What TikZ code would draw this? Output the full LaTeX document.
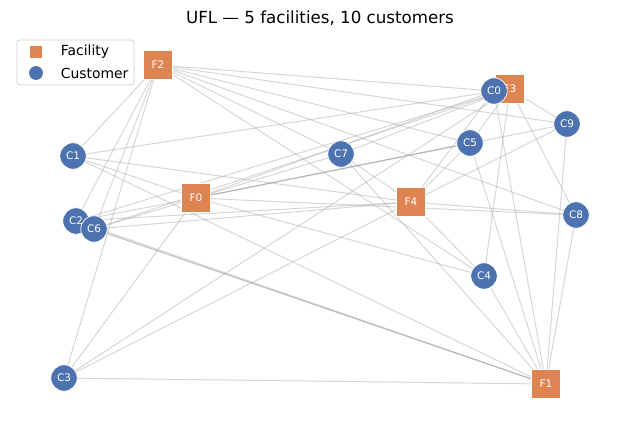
\documentclass[tikz,border=0pt]{standalone}
\usepackage{fontspec}
\setmainfont{DejaVu Sans}
\usetikzlibrary{backgrounds}
\definecolor{fac}{HTML}{DD8452}
\definecolor{cus}{HTML}{4C72B0}
\tikzset{
  facility/.style={rectangle, fill=fac, draw=white, line width=0.5pt, minimum size=21pt, inner sep=0pt, text=white, font=\fontsize{7.5}{8}\selectfont},
  customer/.style={circle, fill=cus, draw=white, line width=0.5pt, minimum size=19pt, inner sep=0pt, text=white, font=\fontsize{7.5}{8}\selectfont},
  edge/.style={draw=black!35, opacity=0.45, line width=0.7pt},
  strongedge/.style={draw=black!35, opacity=0.5, line width=0.7pt},
}
\begin{document}
\begin{tikzpicture}[x=0.72pt, y=-0.72pt]
\useasboundingbox (0,0) rectangle (640,427);
\node[font=\fontsize{12}{14}\selectfont] (title) at (320,18) {UFL — 5 facilities, 10 customers};
% facilities
\node[facility] (f2) at (158,65) {F2};
\node[facility] (f3) at (510,89) {F3};
\node[facility] (f0) at (196,198) {F0};
\node[facility] (f4) at (411,202) {F4};
\node[facility] (f1) at (546,384) {F1};
% customers
\node[customer] (c0) at (494,91) {C0};
\node[customer] (c1) at (73,156) {C1};
\node[customer] (c2) at (76,221) {C2};
\node[customer] (c6) at (94,229) {C6};
\node[customer] (c7) at (341,154) {C7};
\node[customer] (c5) at (470,143) {C5};
\node[customer] (c9) at (567,124) {C9};
\node[customer] (c8) at (576,215) {C8};
\node[customer] (c4) at (484,276) {C4};
\node[customer] (c3) at (64,378) {C3};
\begin{pgfonlayer}{background}
\fill[white] (0,0) rectangle (640,427);
\foreach \f in {0,1,2,3,4}{
  \foreach \c in {0,1,2,3,4,5,6,7,8,9}{
    \draw[edge] (f\f.center) -- (c\c.center);
  }
}
\draw[strongedge] (f0.center) -- (c5.center);
\draw[strongedge] (f1.center) -- (c6.center);
\end{pgfonlayer}
% legend
\draw[black!20, fill=white, opacity=0.9, rounded corners=2pt, line width=0.6pt] (17,40) rectangle (134,85);
\node[rectangle, fill=fac, minimum size=9pt, inner sep=0pt] (lf) at (36,52) {};
\node[circle, fill=cus, minimum size=10pt, inner sep=0pt] (lc) at (36,73) {};
\node[anchor=west, font=\fontsize{10}{12}\selectfont] (lft) at (56,52) {Facility};
\node[anchor=west, font=\fontsize{10}{12}\selectfont] (lct) at (56,73) {Customer};
\end{tikzpicture}
\end{document}
